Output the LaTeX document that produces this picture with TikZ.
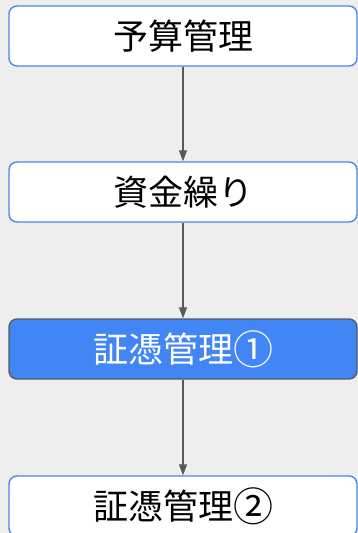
\documentclass[tikz,border=0pt]{standalone}
\usepackage{fontspec}
\newfontfamily\cjk{Noto Sans CJK JP}
\usetikzlibrary{arrows.meta}
\definecolor{bg}{HTML}{EEEEEE}
\definecolor{bblue}{HTML}{4A86E8}
\definecolor{fblue}{HTML}{4285F4}
\definecolor{dgray}{HTML}{595959}
\newcommand{\circnum}[1]{\raisebox{-1.5pt}{\fontsize{40}{40}\selectfont #1}}
\tikzset{
  box/.style={draw=bblue, fill=white, line width=1.4pt, rounded corners=8pt,
    minimum width=348pt, minimum height=60pt, inner sep=0pt,
    font=\cjk\fontsize{35}{40}\selectfont, text=black},
  hbox/.style={box, draw=dgray, fill=fblue, text=white},
  conn/.style={draw=dgray, line width=1.3pt, -{Triangle[length=11pt,width=8pt]}}
}
\begin{document}
\begin{tikzpicture}[x=1pt,y=1pt]
\useasboundingbox[fill=bg] (0,0) rectangle (358,533);
\node[box] (a) at (183,497) {予算管理};
\node[box] (b) at (183,341) {資金繰り};
\node[hbox] (c) at (183,184) {証憑管理\circnum{①}};
\node[box] (d) at (183,27) {証憑管理\circnum{②}};
\draw[conn] (a) -- (b);
\draw[conn] (b) -- (c);
\draw[conn] (c) -- (d);
\end{tikzpicture}
\end{document}
